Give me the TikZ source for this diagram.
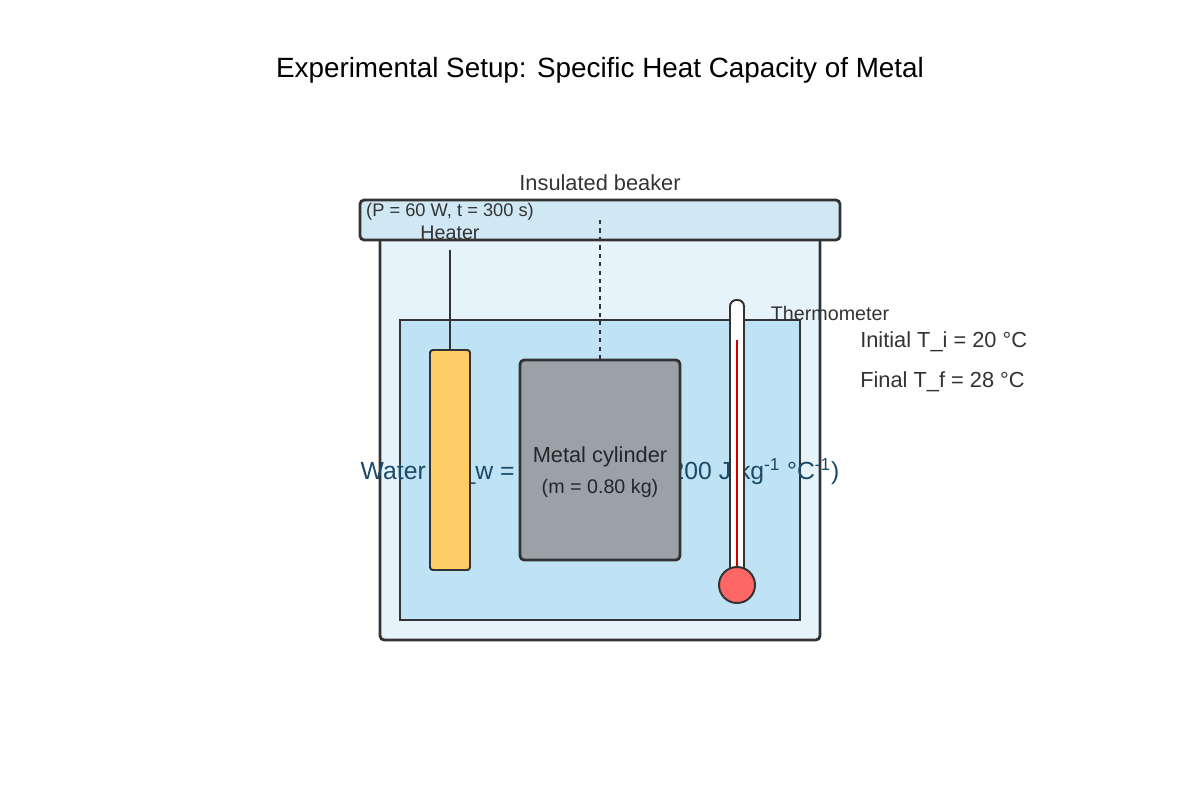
\documentclass[tikz,border=0pt]{standalone}
\usepackage{fontspec}
\setmainfont{Liberation Sans}
\usetikzlibrary{positioning}
\definecolor{edge}{HTML}{333333}
\definecolor{beakerfill}{HTML}{E6F3FB}
\definecolor{lidfill}{HTML}{D0E7F4}
\definecolor{waterfill}{HTML}{BFE2F4}
\definecolor{waterink}{HTML}{1A4B6A}
\definecolor{heaterfill}{HTML}{FFCC66}
\definecolor{metalfill}{HTML}{9AA2A8}
\definecolor{bulbfill}{HTML}{FF6666}
\definecolor{mercury}{HTML}{CC0000}
\tikzset{
  part/.style={draw=edge,line width=2pt,rounded corners=3pt},
  txt/.style={text=edge,inner sep=0pt},
}
\begin{document}
\begin{tikzpicture}[x=0.025cm,y=-0.025cm]
\useasboundingbox (0,0) rectangle (1200,800);
\node[font=\fontsize{19.8}{23}\selectfont,inner sep=0pt] (title) at (600,70) {Experimental Setup: Specific Heat Capacity of Metal};
% beaker and lid
\draw[part,fill=beakerfill] (380,230) rectangle (820,640);
\draw[part,fill=lidfill] (360,200) rectangle (840,240);
\node[txt,font=\fontsize{15.5}{18}\selectfont] (beaker) at (600,183) {Insulated beaker};
% water
\draw[draw=edge,line width=1.2pt,fill=waterfill] (400,320) rectangle (800,620);
\node[txt,text=waterink,font=\fontsize{17.6}{20}\selectfont] (water) at (600,472) {Water (m\_w = 0.50 kg, c = 4200 J kg\textsuperscript{-1} °C\textsuperscript{-1})};
% heater
\coordinate (wire) at (450,250);
\draw[part,fill=heaterfill,line width=1.4pt,rounded corners=2pt] (430,350) rectangle (470,570);
\coordinate (heatertop) at (450,350);
\draw[edge,line width=2pt] (wire) -- (heatertop);
\node[txt,font=\fontsize{13}{15}\selectfont] (power) at (450,212) {(P = 60 W, t = 300 s)};
\node[txt,font=\fontsize{14}{16}\selectfont] (heater) at (450,233) {Heater};
% metal cylinder
\draw[part,fill=metalfill] (520,360) rectangle (680,560);
\coordinate (hang) at (600,220);
\coordinate (cyltop) at (600,360);
\draw[edge,line width=1.4pt,dash pattern=on 3pt off 3pt] (hang) -- (cyltop);
\node[txt,text=black!85,font=\fontsize{15.5}{18}\selectfont] (metal) at (600,457) {Metal cylinder};
\node[txt,text=black!85,font=\fontsize{14}{16}\selectfont,below=8pt of metal] (mass) {(m = 0.80 kg)};
% thermometer
\draw[part,fill=white,line width=1.4pt,rounded corners=4.5pt] (730,300) rectangle (744,585);
\draw[mercury,line width=2pt] (737,340) -- (737,570);
\draw[draw=edge,line width=1.4pt,fill=bulbfill] (737,585) circle (18);
\node[txt,font=\fontsize{14}{16}\selectfont] (thermo) at (830,313) {Thermometer};
\node[txt,anchor=west,font=\fontsize{15.5}{18}\selectfont] (initial) at (860,342) {Initial T\_i = 20 °C};
\node[txt,anchor=west,font=\fontsize{15.5}{18}\selectfont] (final) at (860,382) {Final T\_f = 28 °C};
\end{tikzpicture}
\end{document}
